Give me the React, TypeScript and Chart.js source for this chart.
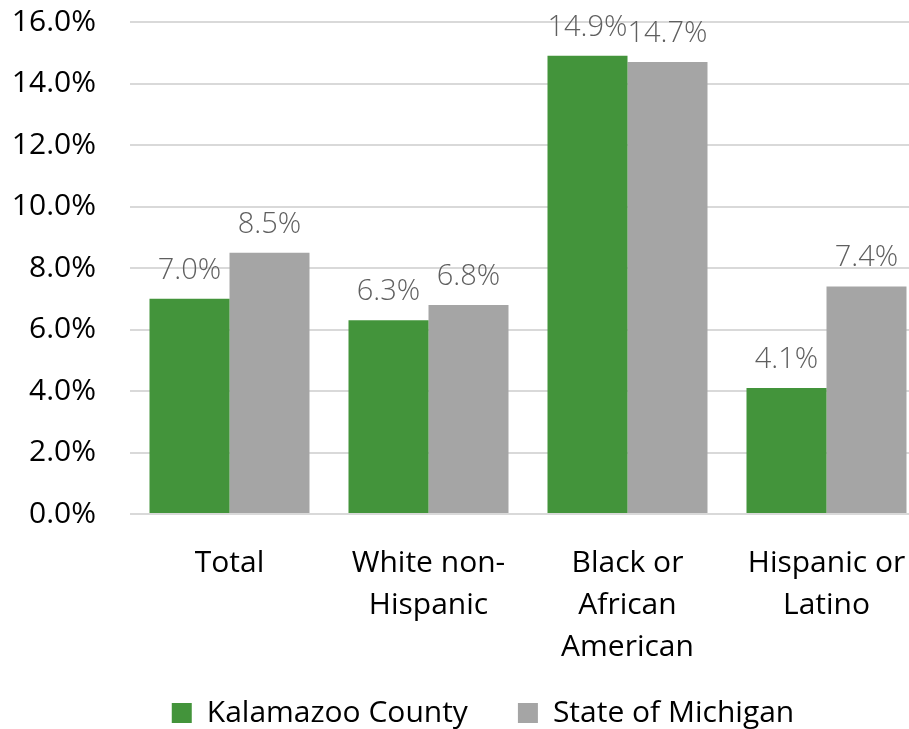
import React, { useEffect, useRef } from "react";
import { Chart, registerables } from "chart.js";

Chart.register(...registerables);

const categories: string[][] = [
  ["Total"],
  ["White non-", "Hispanic"],
  ["Black or", "African", "American"],
  ["Hispanic or", "Latino"],
];
const kalamazooCounty = [7.0, 6.3, 14.9, 4.1];
const stateOfMichigan = [8.5, 6.8, 14.7, 7.4];
const seriesNames = ["Kalamazoo County", "State of Michigan"];
const seriesColors = ["#43943B", "#A5A5A5"];
const yMin = 0;
const yMax = 16;
const yStep = 2;

const FONT = "'Open Sans', 'Noto Sans', sans-serif";
const LEGEND_SHIFT_X = 20;
const LEGEND_SHIFT_Y = 9;

const valueLabels = {
  id: "valueLabels",
  afterDatasetsDraw(chart: any) {
    const ctx = chart.ctx;
    ctx.save();
    ctx.font = `300 29px ${FONT}`;
    ctx.fillStyle = "#5F5F5F";
    ctx.textAlign = "center";
    ctx.textBaseline = "alphabetic";
    chart.data.datasets.forEach((ds: any, i: number) => {
      const meta = chart.getDatasetMeta(i);
      meta.data.forEach((bar: any, j: number) => {
        const v = ds.data[j] as number;
        ctx.fillText(v.toFixed(1) + "%", bar.x, bar.y - 20);
      });
    });
    ctx.restore();
  },
};

const layoutTweak = {
  id: "layoutTweak",
  afterLayout(chart: any) {
    const lg = chart.legend;
    if (lg) {
      lg.left += LEGEND_SHIFT_X;
      lg.right += LEGEND_SHIFT_X;
      lg.top += LEGEND_SHIFT_Y;
      lg.bottom += LEGEND_SHIFT_Y;
    }
    const x = chart.scales.x;
    if (x) x.bottom = chart.height;
  },
};

export default function App() {
  const ref = useRef<HTMLCanvasElement | null>(null);

  useEffect(() => {
    if (!ref.current) return;
    const chart = new Chart(ref.current, {
      type: "bar",
      data: {
        labels: categories,
        datasets: [
          {
            label: seriesNames[0],
            data: kalamazooCounty,
            backgroundColor: seriesColors[0],
            barPercentage: 1,
            categoryPercentage: 0.804,
          },
          {
            label: seriesNames[1],
            data: stateOfMichigan,
            backgroundColor: seriesColors[1],
            barPercentage: 1,
            categoryPercentage: 0.804,
          },
        ],
      },
      options: {
        responsive: false,
        animation: false,
        events: [],
        layout: { padding: { top: 22, right: 0, bottom: 0, left: 0 } },
        scales: {
          x: {
            grid: { display: false },
            border: { display: false },
            ticks: {
              color: "#000000",
              font: { family: FONT, size: 30, lineHeight: 1.4 },
              padding: 20,
              maxRotation: 0,
              autoSkip: false,
            },
            afterFit: (s: any) => {
              s.height = 125;
            },
          },
          y: {
            min: yMin,
            max: yMax,
            ticks: {
              stepSize: yStep,
              color: "#000000",
              font: { family: FONT, size: 30 },
              padding: 34,
              callback: (v: any) => Number(v).toFixed(1) + "%",
            },
            grid: { color: "#D9D9D9", lineWidth: 2, drawTicks: false },
            border: { display: false },
            afterFit: (s: any) => {
              s.width = 130;
              s.paddingTop = 0;
              s.paddingBottom = 0;
            },
          },
        },
        plugins: {
          tooltip: { enabled: false },
          legend: {
            position: "bottom",
            labels: {
              boxWidth: 20,
              boxHeight: 20,
              padding: 50,
              color: "#000000",
              font: { family: FONT, size: 30 },
            },
          },
        },
      },
      plugins: [valueLabels, layoutTweak],
    });
    return () => chart.destroy();
  }, []);

  return (
    <div
      style={{
        position: "fixed",
        left: 0,
        top: 0,
        width: 909,
        height: 729,
        overflow: "hidden",
        background: "#ffffff",
      }}
    >
      <canvas ref={ref} width={926} height={729} style={{ display: "block" }} />
    </div>
  );
}
